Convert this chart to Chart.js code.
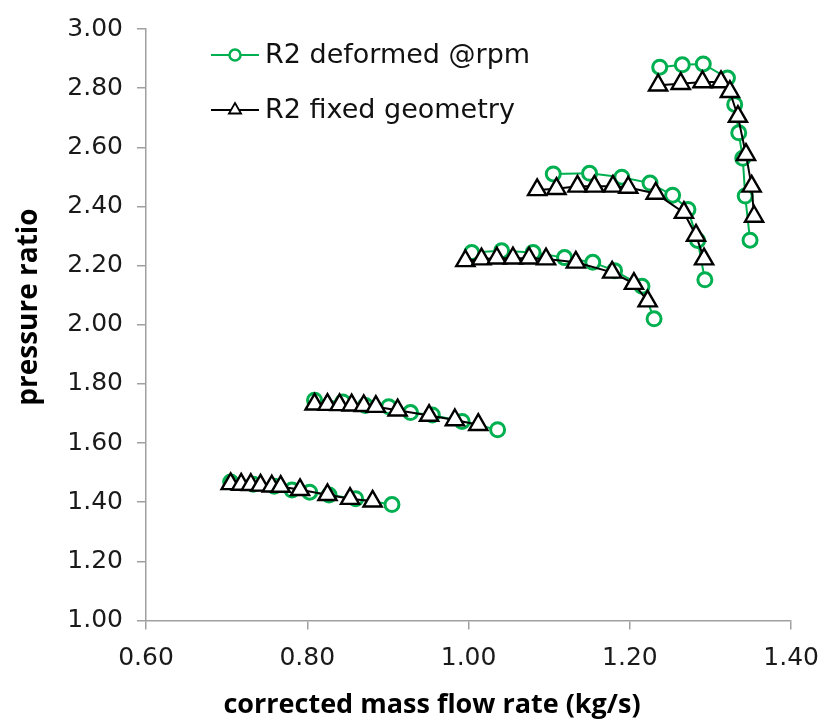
<!DOCTYPE html>
<html><head><meta charset="utf-8">
<script src="https://cdn.jsdelivr.net/npm/chart.js@4.4.1/dist/chart.umd.min.js"></script>
<style>html,body{margin:0;padding:0;background:#fff}#wrap{width:833px;height:721px}</style>
</head><body><div id="wrap"><canvas id="c" width="833" height="721"></canvas></div>
<script>
// ---- data ----
const seriesNames = ['R2 deformed @rpm', 'R2 fixed geometry'];
const xTitle = 'corrected mass flow rate (kg/s)';
const yTitle = 'pressure ratio';

const flowDeformed1 = [0.705, 0.733, 0.759, 0.781, 0.803, 0.827, 0.860, 0.905];
const prDeformed1   = [1.468, 1.461, 1.454, 1.441, 1.434, 1.424, 1.412, 1.392];
const flowDeformed2 = [0.809, 0.844, 0.872, 0.901, 0.928, 0.955, 0.992, 1.036];
const prDeformed2   = [1.745, 1.739, 1.727, 1.723, 1.703, 1.695, 1.673, 1.645];
const flowDeformed3 = [1.004, 1.041, 1.080, 1.119, 1.154, 1.181, 1.215, 1.230];
const prDeformed3   = [2.244, 2.250, 2.244, 2.227, 2.211, 2.183, 2.130, 2.020];
const flowDeformed4 = [1.105, 1.150, 1.190, 1.225, 1.253, 1.272, 1.284, 1.293];
const prDeformed4   = [2.510, 2.512, 2.499, 2.479, 2.438, 2.390, 2.285, 2.152];
const flowDeformed5 = [1.237, 1.265, 1.291, 1.321, 1.330, 1.335, 1.340, 1.343, 1.349];
const prDeformed5   = [2.871, 2.879, 2.882, 2.834, 2.745, 2.649, 2.563, 2.435, 2.286];

const flowFixed1 = [0.705, 0.718, 0.730, 0.742, 0.756, 0.767, 0.791, 0.825, 0.853, 0.881];
const prFixed1   = [1.462, 1.460, 1.459, 1.457, 1.454, 1.453, 1.442, 1.425, 1.412, 1.403];
const flowFixed2 = [0.809, 0.825, 0.840, 0.855, 0.870, 0.885, 0.912, 0.951, 0.983, 1.012];
const prFixed2   = [1.731, 1.730, 1.729, 1.728, 1.726, 1.723, 1.711, 1.693, 1.678, 1.662];
const flowFixed3 = [0.996, 1.016, 1.035, 1.055, 1.075, 1.096, 1.133, 1.178, 1.205, 1.222];
const prFixed3   = [2.216, 2.222, 2.225, 2.225, 2.225, 2.222, 2.211, 2.177, 2.139, 2.080];
const flowFixed4 = [1.085, 1.109, 1.135, 1.156, 1.179, 1.198, 1.232, 1.267, 1.282, 1.292];
const prFixed4   = [2.456, 2.460, 2.468, 2.468, 2.468, 2.464, 2.444, 2.379, 2.302, 2.222];
const flowFixed5 = [1.235, 1.263, 1.290, 1.313, 1.324, 1.334, 1.344, 1.351, 1.354];
const prFixed5   = [2.810, 2.815, 2.821, 2.821, 2.788, 2.704, 2.575, 2.468, 2.366];

const xTicks = [0.60, 0.80, 1.00, 1.20, 1.40];
const yTicks = [1.00, 1.20, 1.40, 1.60, 1.80, 2.00, 2.20, 2.40, 2.60, 2.80, 3.00];

// ---- styles ----
const GREEN = '#00B050';
const deformedStyle = {borderColor: GREEN, backgroundColor: '#fff', pointBorderColor: GREEN, pointBackgroundColor: '#fff',
  pointStyle: 'circle', pointRadius: 7, pointBorderWidth: 3, borderWidth: 2, order: 2};
const fixedStyle = {borderColor: '#000', backgroundColor: '#fff', pointBorderColor: '#000', pointBackgroundColor: '#fff',
  pointStyle: 'triangle', pointRadius: 10.5, pointBorderWidth: 2.4, borderWidth: 2, order: 1};

const zip = (xs, ys) => xs.map((x, i) => ({x: x, y: ys[i]}));
const deformedSets = [[flowDeformed1, prDeformed1],[flowDeformed2, prDeformed2],[flowDeformed3, prDeformed3],[flowDeformed4, prDeformed4],[flowDeformed5, prDeformed5]];
const fixedSets = [[flowFixed1, prFixed1],[flowFixed2, prFixed2],[flowFixed3, prFixed3],[flowFixed4, prFixed4],[flowFixed5, prFixed5]];

const datasets = [];
deformedSets.forEach(([f, p]) => datasets.push(Object.assign({label: seriesNames[0], data: zip(f, p), showLine: true, tension: 0}, deformedStyle)));
fixedSets.forEach(([f, p]) => datasets.push(Object.assign({label: seriesNames[1], data: zip(f, p), showLine: true, tension: 0}, fixedStyle)));

const AXIS = '#a0a0a0';
const TICKFONT = {family: 'DejaVu Sans', size: 25};

const decorPlugin = {
  id: 'decor',
  afterDraw(chart) {
    const ctx = chart.ctx;
    ctx.save();
    ctx.fillStyle = '#000';
    ctx.textAlign = 'center';
    ctx.textBaseline = 'middle';
    ctx.font = 'bold 27px "Open Sans"';
    ctx.fillText(xTitle, 432, 705);
    ctx.font = 'bold 28px "Open Sans"';
    ctx.translate(29, 307);
    ctx.rotate(-Math.PI / 2);
    ctx.fillText(yTitle, 0, 0);
    ctx.restore();
    // legend
    ctx.save();
    const items = [{style: deformedStyle, text: seriesNames[0], y: 55, r: 5.5, bw: 2.5},
                   {style: fixedStyle, text: seriesNames[1], y: 110, r: 7, bw: 1.8}];
    items.forEach(it => {
      ctx.strokeStyle = it.style.borderColor;
      ctx.lineWidth = 2;
      ctx.beginPath(); ctx.moveTo(211, it.y); ctx.lineTo(259, it.y); ctx.stroke();
      ctx.fillStyle = it.style.pointBackgroundColor;
      ctx.strokeStyle = it.style.pointBorderColor;
      ctx.lineWidth = it.bw;
      Chart.helpers.drawPoint(ctx, {pointStyle: it.style.pointStyle, radius: it.r, borderWidth: it.bw, rotation: 0}, 235, it.y);
      ctx.fillStyle = '#111';
      ctx.font = '27px "DejaVu Sans"';
      ctx.textAlign = 'left';
      ctx.textBaseline = 'middle';
      ctx.fillText(it.text, 265, it.y + 1);
    });
    ctx.restore();
  }
};

new Chart(document.getElementById('c'), {
  type: 'scatter',
  data: {datasets},
  options: {
    responsive: false, animation: false, devicePixelRatio: 1,
    layout: {padding: {left: 0, top: 19.5, right: 29, bottom: 0}},
    plugins: {legend: {display: false}, tooltip: {enabled: false}},
    scales: {
      x: {
        type: 'linear', min: 0.6, max: 1.4,
        afterBuildTicks: s => { s.ticks = xTicks.map(v => ({value: v})); },
        afterFit: s => { s.height = 100.5; },
        ticks: {callback: v => Number(v).toFixed(2), font: TICKFONT, color: '#1a1a1a', padding: 14, maxRotation: 0},
        grid: {display: true, drawOnChartArea: false, drawTicks: true, tickLength: 9, color: AXIS, lineWidth: 1.5},
        border: {display: true, color: AXIS, width: 1.5}
      },
      y: {
        type: 'linear', min: 1, max: 3,
        afterBuildTicks: s => { s.ticks = yTicks.map(v => ({value: v})); },
        afterFit: s => { s.width = 146; },
        ticks: {callback: v => Number(v).toFixed(2), font: TICKFONT, color: '#1a1a1a', padding: 14},
        grid: {display: true, drawOnChartArea: false, drawTicks: true, tickLength: 9, color: AXIS, lineWidth: 1.5},
        border: {display: true, color: AXIS, width: 1.5}
      }
    }
  },
  plugins: [decorPlugin]
});
</script>
</body></html>
